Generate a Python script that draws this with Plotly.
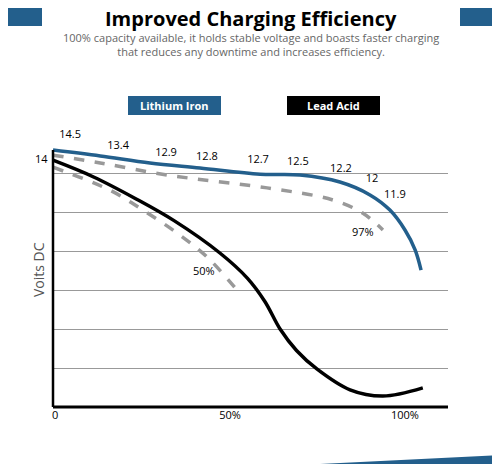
import plotly.graph_objects as go

# capacity (%) vs chart-level units (gridlines at 1..6)
li_x = [-0.6, 12.9, 27.1, 41.4, 58.6, 70, 81.4, 90, 95.7, 100, 102.9, 104.6]
li_y = [6.59, 6.44, 6.26, 6.13, 5.97, 5.95, 5.77, 5.44, 5.05, 4.54, 4.03, 3.51]
li_dash_x = [-0.6, 12.9, 32, 60.6, 79.4, 88, 93.7]
li_dash_y = [6.46, 6.26, 5.95, 5.62, 5.31, 4.97, 4.54]
la_x = [-0.6, 11, 22.9, 34, 47.1, 55, 60, 64.3, 69, 74.9, 84.3, 93.7, 105.1]
la_y = [6.33, 5.9, 5.35, 4.78, 3.95, 3.3, 2.7, 2.0, 1.45, 0.97, 0.44, 0.28, 0.49]
la_dash_x = [-0.6, 15.7, 25.1, 34.9, 43.4, 52]
la_dash_y = [6.15, 5.56, 5.05, 4.46, 3.85, 3.0]

volt_labels = ["14.5", "13.4", "12.9", "12.8", "12.7", "12.5", "12.2", "12", "11.9"]
volt_x = [4.3, 18, 31.7, 43.4, 58, 69.4, 81.7, 90.6, 97.1]
volt_y = [6.97, 6.69, 6.51, 6.41, 6.33, 6.28, 6.10, 5.85, 5.44]

BLUE = "#235f8c"
OFF = 8  # page body margin
W, H = 500 - OFF - 8, 472 - OFF - 8
L, R, T, B = 53, 448, 122, 407


def px(x):
    return (x - L) / (R - L)


def py(y):
    return (B - y) / (B - T)


fig = go.Figure()
fig.add_trace(go.Scatter(x=li_dash_x, y=li_dash_y, mode="lines", line_shape="spline",
                         line=dict(color="#999999", width=3.5, dash="dash")))
fig.add_trace(go.Scatter(x=la_dash_x, y=la_dash_y, mode="lines", line_shape="spline",
                         line=dict(color="#999999", width=3.5, dash="dash")))
fig.add_trace(go.Scatter(x=li_x, y=li_y, mode="lines", line_shape="spline",
                         line=dict(color=BLUE, width=3.5)))
fig.add_trace(go.Scatter(x=la_x, y=la_y, mode="lines", line_shape="spline",
                         line=dict(color="black", width=3.5, smoothing=1)))
fig.add_trace(go.Scatter(x=volt_x, y=volt_y, mode="text", text=volt_labels,
                         textfont=dict(size=11, color="black", family="Open Sans")))

ann = [
    dict(x=88, y=4.49, text="97%"), dict(x=42.6, y=3.49, text="50%"),
]
annotations = [dict(a, xref="x", yref="y", showarrow=False,
                    font=dict(size=11, color="black", family="Open Sans")) for a in ann]
paper_ann = [
    dict(x=px(41), y=py(158), text="14", font=dict(size=11, color="black")),
    dict(x=px(38), y=py(270), text="Voits DC", textangle=-90,
         font=dict(size=14, color="#555")),
    dict(x=0.5, y=py(18), text="<b>Improved Charging Efficiency</b>",
         font=dict(size=20, color="black")),
    dict(x=0.5, y=py(44),
         text="100% capacity available, it holds stable voltage and boasts faster charging<br>"
              "that reduces any downtime and increases efficiency.",
         font=dict(size=11, color="#666")),
    dict(x=px(174), y=py(105.5), text="<b>Lithium Iron</b>", font=dict(size=11, color="white")),
    dict(x=px(333), y=py(105.5), text="<b>Lead Acid</b>", font=dict(size=11, color="white")),
]
for a in paper_ann:
    a["font"]["family"] = "Open Sans"
    annotations.append(dict(a, xref="paper", yref="paper", showarrow=False,
                            xanchor="center", yanchor="middle"))


def rect(x0, y0, x1, y1, color):
    return dict(type="rect", xref="paper", yref="paper", x0=px(x0), x1=px(x1),
                y0=py(y0), y1=py(y1), fillcolor=color, line_width=0, layer="below")


shapes = [
    rect(0, 3, 42, 26, BLUE), rect(460, 3, 500, 26, BLUE),
    rect(128, 96, 221, 115, BLUE), rect(287, 96, 380, 115, "black"),
    dict(type="path", xref="paper", yref="paper",
         path=f"M {px(160)} {py(472)} L {px(500)} {py(455)} L {px(500)} {py(472)} Z",
         fillcolor=BLUE, line_width=0),
    dict(type="line", xref="paper", yref="paper", x0=0, x1=0, y0=0, y1=py(150),
         line=dict(color="black", width=2.5)),
    dict(type="line", xref="paper", yref="paper", x0=0, x1=1, y0=0, y1=0,
         line=dict(color="black", width=3)),
]

fig.update_layout(
    width=W, height=H, margin=dict(l=L - OFF, r=W - (R - OFF), t=T - OFF, b=H - (B - OFF)),
    plot_bgcolor="white", paper_bgcolor="white", showlegend=False,
    annotations=annotations, shapes=shapes,
    xaxis=dict(range=[-0.6, 112.3], tickvals=[0, 50, 100], ticktext=["0", "50%", "100%"],
               showgrid=False, zeroline=False, showline=False, ticks="",
               tickfont=dict(size=11, color="black", family="Open Sans")),
    yaxis=dict(range=[0, 7.31], tickvals=[1, 2, 3, 4, 5, 6], showticklabels=False,
               showgrid=True, gridcolor="#999", gridwidth=1, zeroline=False, showline=False),
)
fig.write_html("out.html")
